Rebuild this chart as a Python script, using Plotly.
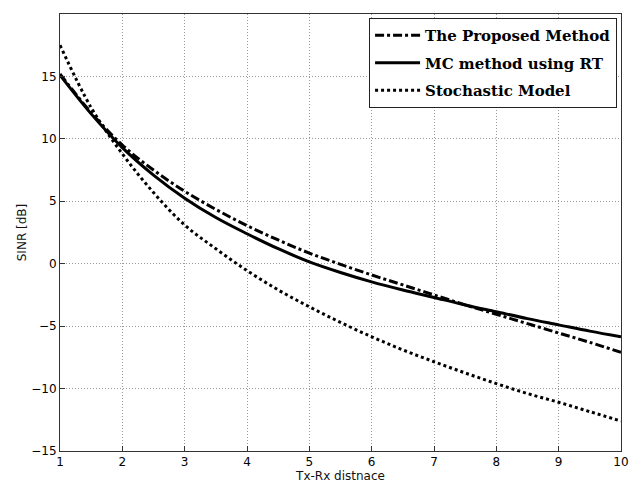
import plotly.graph_objects as go

x = [1, 1.5, 2, 2.5, 3, 3.5, 4, 4.5, 5, 5.5, 6, 6.5, 7, 7.5, 8, 8.5, 9, 9.5, 10]
proposed = [15.2, 12.1, 9.5, 7.5, 5.8, 4.35, 3.05, 1.9, 0.85, -0.05, -0.9, -1.7, -2.5, -3.3, -4.05, -4.8, -5.55, -6.3, -7.1]
mc_rt = [15.1, 12.0, 9.3, 7.1, 5.25, 3.7, 2.4, 1.2, 0.15, -0.7, -1.45, -2.1, -2.7, -3.3, -3.85, -4.4, -4.9, -5.4, -5.85]
stochastic = [17.5, 12.5, 8.8, 5.7, 3.1, 1.2, -0.55, -2.1, -3.45, -4.7, -5.85, -6.9, -7.85, -8.75, -9.6, -10.4, -11.1, -11.85, -12.6]

names = ["The Proposed Method", "MC method using RT", "Stochastic Model"]
dashes = ["dashdot", "solid", "dot"]

fig = go.Figure()
for i, (yv, nm, ds) in enumerate(zip([proposed, mc_rt, stochastic], names, dashes)):
    fig.add_trace(go.Scatter(
        x=x, y=yv, mode="lines", name="<b>" + nm + "</b>", legendgroup=str(i),
        line=dict(color="black", width=3, dash=ds, shape="spline"),
    ))

tick_font = dict(family="DejaVu Sans", size=12, color="#000")
axis_common = dict(
    showline=True, linecolor="#333", linewidth=1, mirror=True,
    ticks="inside", ticklen=5, tickcolor="#333",
    showgrid=True, gridcolor="#999", griddash="1px,2px", gridwidth=1,
    zeroline=False, automargin=False,
    tickfont=tick_font,
)

# page body has an 8px default margin, so figure is sized/offset to compensate
fig.update_layout(
    width=631, height=476,
    margin=dict(l=52, r=18, t=6, b=33),
    paper_bgcolor="white", plot_bgcolor="white",
    showlegend=True,
    legend=dict(
        x=0.993, y=0.991, xanchor="right", yanchor="top",
        bgcolor="white", bordercolor="#222", borderwidth=1,
        font=dict(family="DejaVu Serif", size=15, color="black"),
        tracegroupgap=5, itemwidth=45,
    ),
    xaxis=dict(range=[1, 10], dtick=1,
               title=dict(text="Tx-Rx distnace", standoff=0,
                          font=dict(family="DejaVu Sans", size=12, color="#111")),
               **axis_common),
    yaxis=dict(range=[-15, 20], dtick=5,
               title=dict(text="SINR [dB]", standoff=2,
                          font=dict(family="DejaVu Sans", size=12, color="#111")),
               **axis_common),
)

fig.write_html("out.html")
